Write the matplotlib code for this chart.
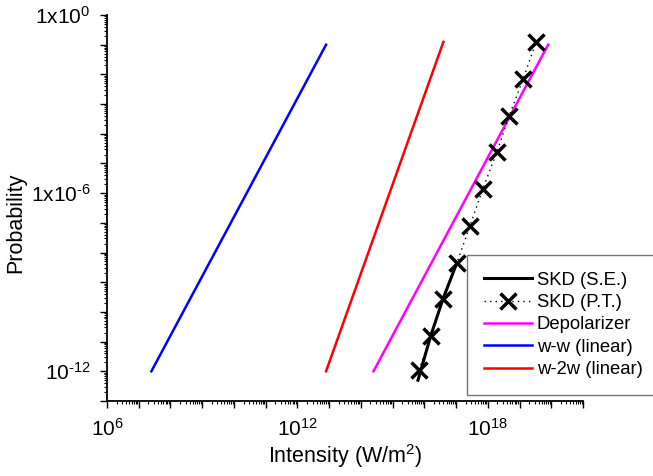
import numpy as np
import matplotlib.pyplot as plt
from matplotlib.ticker import FixedLocator, LogLocator, NullFormatter, FuncFormatter

plt.rcParams['font.family'] = ['Liberation Sans', 'DejaVu Sans']
plt.rcParams['mathtext.fontset'] = 'custom'
plt.rcParams['mathtext.rm'] = 'Liberation Sans'

# data
skd_pt_I = [6.8e15, 1.6e16, 3.9e16, 1.07e17, 2.75e17, 7.0e17, 1.95e18, 4.7e18, 1.3e19, 3.3e19]
skd_pt_P = [1.1e-12, 1.6e-11, 2.8e-10, 4.6e-9, 8.0e-8, 1.4e-6, 2.5e-5, 4.0e-4, 7.0e-3, 1.2e-1]
skd_se_I = [6.3e15, 1.6e16, 3.9e16, 1.07e17]
skd_se_P = [5e-13, 1.6e-11, 2.8e-10, 4.6e-9]
depol_I = [2.5e14, 8e19]
depol_P = [1e-12, 1e-1]
ww_I = [2.5e7, 8e12]
ww_P = [1e-12, 1e-1]
w2w_I = [8e12, 4e16]
w2w_P = [1e-12, 1.25e-1]

fig = plt.figure(figsize=(6.53, 4.76), dpi=100)
ax = fig.add_axes([0.1639, 0.1576, 0.7289, 0.8109])

ax.plot(skd_se_I, skd_se_P, color='black', lw=2.2, label='SKD (S.E.)', zorder=4)
ax.plot(skd_pt_I, skd_pt_P, color='black', ls=(0, (1, 3)), lw=1, marker='x',
        ms=11, mew=2.5, label='SKD (P.T.)', zorder=5)
ax.plot(depol_I, depol_P, color='#ff00ff', lw=1.8, label='Depolarizer')
ax.plot(ww_I, ww_P, color='#0000ff', lw=1.8, label='w-w (linear)')
ax.plot(w2w_I, w2w_P, color='#ff0000', lw=1.8, label='w-2w (linear)')

ax.set_xscale('log')
ax.set_yscale('log')
ax.set_xlim(1e6, 1e21)
ax.set_ylim(1e-13, 1e0)

ax.xaxis.set_major_locator(FixedLocator([10.0**k for k in range(6, 22)]))
ax.xaxis.set_minor_locator(LogLocator(base=10, subs=np.arange(2, 10), numticks=100))
ax.yaxis.set_major_locator(FixedLocator([10.0**k for k in range(-13, 1)]))
ax.yaxis.set_minor_locator(LogLocator(base=10, subs=np.arange(2, 10), numticks=100))

def xfmt(v, pos):
    e = int(round(np.log10(v)))
    if e in (6, 12, 18):
        return r'$\mathregular{10^{%d}}$' % e
    return ''

def yfmt(v, pos):
    e = int(round(np.log10(v)))
    if e == 0:
        return r'$\mathregular{1x10^{0}}$'
    if e == -6:
        return '$\\mathregular{1x10^{\u20106}}$'
    if e == -12:
        return '$\\mathregular{10^{\u201012}}$'
    return ''

ax.xaxis.set_major_formatter(FuncFormatter(xfmt))
ax.yaxis.set_major_formatter(FuncFormatter(yfmt))
ax.xaxis.set_minor_formatter(NullFormatter())
ax.yaxis.set_minor_formatter(NullFormatter())

ax.tick_params(which='major', length=5, width=1, labelsize=15, pad=7)
ax.tick_params(which='minor', length=2.5, width=0.8)

ax.spines['top'].set_visible(False)
ax.spines['right'].set_visible(False)
for s in ('left', 'bottom'):
    ax.spines[s].set_linewidth(1.3)

ax.set_xlabel(r'Intensity (W/m$\mathregular{^2}$)', fontsize=15.5, labelpad=2)
ax.set_ylabel('Probability', fontsize=15.5)
ax.yaxis.set_label_coords(-0.17, 0.461)

leg = fig.legend(loc='upper left', bbox_to_anchor=(0.715, 0.4643), fontsize=13.3,
                 frameon=True, fancybox=False, edgecolor='#555555',
                 handlelength=2.6, handletextpad=0.27, labelspacing=0.29,
                 borderpad=0.9, borderaxespad=0)
leg.get_frame().set_linewidth(1)

fig.savefig('out.png', dpi=100)
